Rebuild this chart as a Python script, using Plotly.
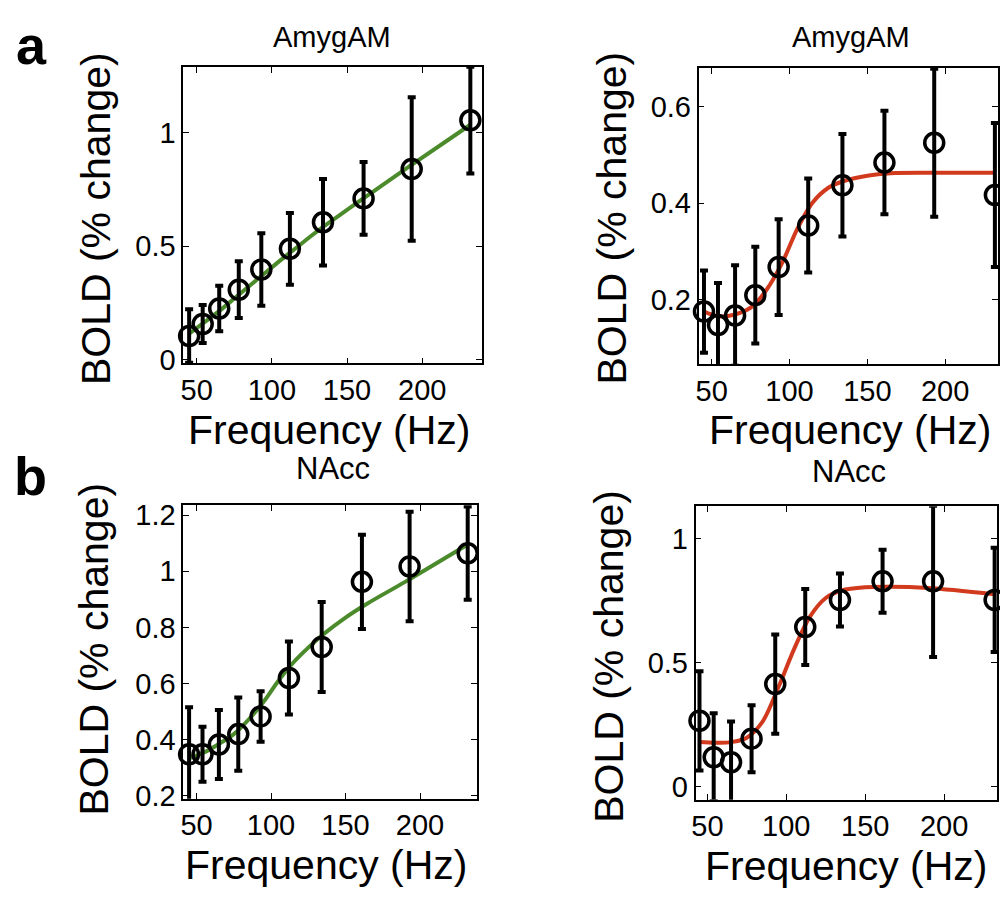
import plotly.graph_objects as go

# The page body has an 8 px margin, so the figure is drawn 8 px in from the
# top-left corner of the 1008x904 window; the figure is sized so that the
# page never overflows the window.
OFF = 8
W, H = 1008 - 2 * OFF, 904 - 2 * OFF - 6

# ---------------- data ----------------
freq = [45, 54, 65, 78, 93, 112, 134, 161, 193, 232]
fit_freq = [45, 55, 65, 75, 85, 95, 105, 115, 125, 135, 150, 165, 190, 232]

# (a) AmygAM, left (green fit)
a_lin_mean = [0.105, 0.158, 0.226, 0.309, 0.398, 0.489, 0.606, 0.711, 0.840, 1.055]
a_lin_err = [0.118, 0.084, 0.100, 0.125, 0.160, 0.158, 0.190, 0.160, 0.316, 0.235]
a_lin_fit = [0.115, 0.165, 0.215, 0.270, 0.325, 0.380, 0.435, 0.487, 0.540, 0.590,
             0.660, 0.730, 0.845, 1.035]

# (a) AmygAM, right (red fit)
a_sig_mean = [0.176, 0.148, 0.168, 0.210, 0.268, 0.354, 0.437, 0.484, 0.525, 0.417]
a_sig_err = [0.085, 0.087, 0.104, 0.100, 0.099, 0.097, 0.106, 0.107, 0.153, 0.149]
a_sig_fit = [0.176, 0.166, 0.170, 0.184, 0.220, 0.275, 0.347, 0.402, 0.432, 0.446,
             0.457, 0.462, 0.463, 0.463]

# (b) NAcc, left (green fit)
b_lin_mean = [0.348, 0.348, 0.383, 0.420, 0.483, 0.620, 0.730, 0.962, 1.017, 1.064]
b_lin_err = [0.168, 0.098, 0.123, 0.130, 0.090, 0.130, 0.160, 0.168, 0.195, 0.166]
b_lin_fit = [0.335, 0.355, 0.385, 0.420, 0.472, 0.535, 0.610, 0.675, 0.728, 0.775,
             0.835, 0.886, 0.962, 1.095]

# (b) NAcc, right (red fit)
b_sig_mean = [0.265, 0.118, 0.098, 0.193, 0.413, 0.643, 0.752, 0.827, 0.827, 0.752]
b_sig_err = [0.200, 0.177, 0.164, 0.135, 0.200, 0.153, 0.107, 0.127, 0.305, 0.210]
b_sig_fit = [0.180, 0.177, 0.179, 0.197, 0.262, 0.400, 0.555, 0.685, 0.760, 0.790,
             0.803, 0.805, 0.800, 0.775]

x_ticks = [50, 100, 150, 200]
y_ticks_a_left = [0, 0.5, 1]
y_ticks_a_right = [0.2, 0.4, 0.6]
y_ticks_b_left = [0.2, 0.4, 0.6, 0.8, 1.0, 1.2]
y_ticks_b_right = [0, 0.5, 1]

GREEN = "#4b8b2b"
RED = "#d23a1e"
FONT = "Liberation Sans, Arial, Helvetica, sans-serif"


def px(x):
    return (x - OFF) / W


def py(y):
    return 1 - (y - OFF) / H


# panel geometry in window pixels: (left, right, top, bottom)
panels = [
    dict(box=(180, 480, 62, 365), xr=[41, 239.5], yr=[-0.015, 1.29], yt=y_ticks_a_left,
         mean=a_lin_mean, err=a_lin_err, fit=a_lin_fit, color=GREEN),
    dict(box=(698, 999, 63, 366), xr=[41.5, 234], yr=[0.067, 0.68], yt=y_ticks_a_right,
         mean=a_sig_mean, err=a_sig_err, fit=a_sig_fit, color=RED),
    dict(box=(180, 475, 510, 810), xr=[41, 238], yr=[0.19, 1.235], yt=y_ticks_b_left,
         mean=b_lin_mean, err=b_lin_err, fit=b_lin_fit, color=GREEN),
    dict(box=(695, 998, 511, 811), xr=[42.5, 233.5], yr=[-0.053, 1.13], yt=y_ticks_b_right,
         mean=b_sig_mean, err=b_sig_err, fit=b_sig_fit, color=RED),
]

fig = go.Figure()
layout = dict(
    width=W, height=H,
    margin=dict(l=0, r=0, t=0, b=0),
    paper_bgcolor="white", plot_bgcolor="white",
    showlegend=False,
    font=dict(family=FONT, color="black"),
)

for i, p in enumerate(panels, start=1):
    xa = "x" if i == 1 else f"x{i}"
    ya = "y" if i == 1 else f"y{i}"
    l, r, t, b = p["box"]
    axis_common = dict(
        showline=True, linecolor="black", linewidth=1.5, mirror="ticks",
        ticks="inside", ticklen=6, tickwidth=1.2, tickcolor="black",
        showgrid=False, zeroline=False,
        tickfont=dict(family=FONT, size=29, color="black"),
    )
    layout["xaxis" if i == 1 else f"xaxis{i}"] = dict(
        domain=[px(l), min(px(r), 1)], range=p["xr"], tickvals=x_ticks,
        anchor=ya, **axis_common)
    layout["yaxis" if i == 1 else f"yaxis{i}"] = dict(
        domain=[py(b), py(t)], range=p["yr"], tickvals=p["yt"],
        anchor=xa, **axis_common)

    # fitted curve
    fig.add_trace(go.Scatter(
        x=fit_freq, y=p["fit"], mode="lines", xaxis=xa, yaxis=ya,
        line=dict(color=p["color"], width=4, shape="spline", smoothing=0.9),
        hoverinfo="skip"))
    # error bars (clipped to axes)
    fig.add_trace(go.Scatter(
        x=freq, y=p["mean"], mode="markers", xaxis=xa, yaxis=ya,
        marker=dict(size=1, color="rgba(0,0,0,0)"),
        error_y=dict(type="data", array=p["err"], visible=True,
                     color="black", thickness=4, width=4),
        hoverinfo="skip"))
    # open circles (not clipped, like the original)
    fig.add_trace(go.Scatter(
        x=freq, y=p["mean"], mode="markers", xaxis=xa, yaxis=ya,
        cliponaxis=False,
        marker=dict(symbol="circle-open", size=19, color="black",
                    line=dict(color="black", width=3.5))))

fig.update_layout(**layout)

ann = []


def add_text(text, x, y, size, angle=0, bold=False):
    ann.append(dict(
        text=f"<b>{text}</b>" if bold else text,
        x=px(x), y=py(y), xref="paper", yref="paper",
        xanchor="center", yanchor="middle", showarrow=False,
        textangle=angle, font=dict(family=FONT, size=size, color="black")))


# panel letters
add_text("a", 28, 40, 54, bold=True)
add_text("b", 27, 480, 54, bold=True)
# titles
add_text("AmygAM", 330, 31, 29)
add_text("AmygAM", 851, 31, 29)
add_text("NAcc", 331, 473, 31)
add_text("NAcc", 849, 476, 31)
# x axis titles
add_text("Frequency (Hz)", 327, 433, 41)
add_text("Frequency (Hz)", 851, 433, 41)
add_text("Frequency (Hz)", 324, 878, 41)
add_text("Frequency (Hz)", 847, 879, 41)
# y axis titles
add_text("BOLD (% change)", 93, 217, 41, angle=-90)
add_text("BOLD (% change)", 611, 216, 41, angle=-90)
add_text("BOLD (% change)", 90, 657, 41, angle=-90)
add_text("BOLD (% change)", 608, 664, 41, angle=-90)

fig.update_layout(annotations=ann)
fig.write_html("out.html")
